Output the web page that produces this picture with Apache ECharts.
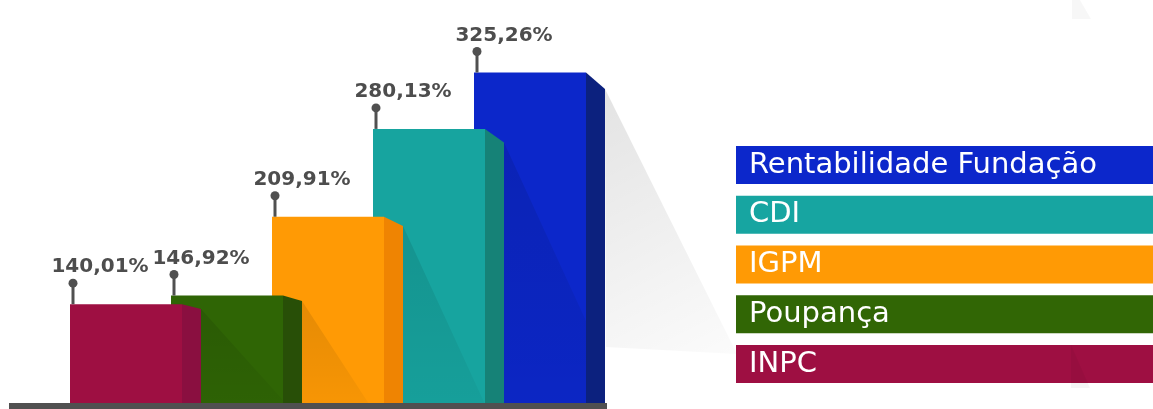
<!DOCTYPE html>
<html>
<head>
<meta charset="utf-8">
<script src="https://cdn.jsdelivr.net/npm/echarts@6/dist/echarts.min.js"></script>
<style>html,body{margin:0;padding:0;background:#fff;}#c{width:1153px;height:409px;}</style>
</head>
<body>
<div id="c"></div>
<script>
const categories = ['INPC', 'Poupança', 'IGPM', 'CDI', 'Rentabilidade Fundação'];
const values = [140.01, 146.92, 209.91, 280.13, 325.26];
const frontColors = ['#9E0F42', '#2F6505', '#FF9A05', '#17A49F', '#0C27CA'];
const sideColors = ['#8A0F40', '#284F07', '#EF8402', '#168277', '#0C217E'];
const legendColors = ['#9E0F42', '#316605', '#FF9A05', '#17A5A1', '#0C27CB'];

const Y_MIN = 61, Y_MAX = 380;
const FRONT = 112, SIDE = 19;
const shadowSlopes = [0.9, 0.65, 0.46, 0.46, 0.5];

function fmt(v) { return v.toFixed(2).replace('.', ',') + '%'; }

const chart = echarts.init(document.getElementById('c'));

function makeRender(idx) {
  return function (params, api) {
    const i = api.value(0);
    const v = api.value(1);
    const p = api.coord([i, v]);
    const base = api.coord([i, Y_MIN])[1];
    const x0 = p[0] - FRONT / 2, x1 = x0 + FRONT, x2 = x1 + SIDE;
    const top = p[1];
    const drop = 0.05 * (base - top);
    const children = [];
    const ay = top + drop;
    const s = shadowSlopes[i];
    if (i < values.length - 1) {
      const q = api.coord([i + 1, values[i + 1]]);
      const nx1 = q[0] - FRONT / 2 + FRONT;
      const bx = x2 + s * (base - ay);
      let pts;
      if (bx > nx1) {
        const yi = ay + (nx1 - x2) / s;
        pts = [[x2, ay], [nx1, yi], [nx1, base], [x2, base]];
      } else {
        pts = [[x2, ay], [bx, base], [x2, base]];
      }
      children.push({
        type: 'polygon', shape: { points: pts },
        style: { fill: new echarts.graphic.LinearGradient(0, 0, 0, 1, [
          { offset: 0, color: 'rgba(0,0,0,0.10)' }, { offset: 1, color: 'rgba(0,0,0,0.03)' }]) }
      });
    } else {
      children.push({
        type: 'polygon', shape: { points: [[x2, ay], [x2 + 132, ay + 265], [x2 + 1, ay + 258]] },
        style: { fill: new echarts.graphic.LinearGradient(0, 0, 1, 1, [
          { offset: 0, color: 'rgba(0,0,0,0.11)' }, { offset: 1, color: 'rgba(0,0,0,0.015)' }]) }
      });
    }
    children.push({ type: 'rect', shape: { x: x0, y: top, width: FRONT, height: base - top }, style: { fill: frontColors[i] } });
    children.push({ type: 'polygon', shape: { points: [[x1, top], [x2, ay], [x2, base], [x1, base]] }, style: { fill: sideColors[i] } });
    const px = x0 + 3;
    children.push({ type: 'line', shape: { x1: px, y1: top, x2: px, y2: top - 21 }, style: { stroke: '#505050', lineWidth: 3 } });
    children.push({ type: 'circle', shape: { cx: px, cy: top - 21, r: 4.5 }, style: { fill: '#505050' } });
    children.push({ type: 'text', x: px + 27, y: top - 37,
      style: { text: fmt(v), fill: '#4d4d4d', font: 'bold 20px "DejaVu Sans"', align: 'center', verticalAlign: 'middle' } });
    return { type: 'group', children: children };
  };
}

const series = [];
for (let i = categories.length - 1; i >= 0; i--) {
  series.push({
    name: categories[i],
    type: 'custom',
    renderItem: makeRender(i),
    data: [[i, values[i]]],
    color: legendColors[i],
    clip: false,
    silent: true
  });
}

const legendData = [];
for (let i = categories.length - 1; i >= 0; i--) {
  legendData.push({ name: categories[i], textStyle: { backgroundColor: legendColors[i] } });
}

chart.setOption({
  animation: false,
  backgroundColor: '#ffffff',
  grid: { left: 75.5, right: 572.5, top: 4, bottom: 6 },
  xAxis: { type: 'category', data: categories, show: false },
  yAxis: { type: 'value', min: Y_MIN, max: Y_MAX, show: false },
  legend: {
    orient: 'vertical', left: 726, top: 141, icon: 'none', itemWidth: 0, itemHeight: 0,
    itemGap: 11.75, selectedMode: false, data: legendData,
    textStyle: { color: '#ffffff', fontSize: 29, fontFamily: 'DejaVu Sans', width: 404, height: 38, lineHeight: 38, padding: [0, 0, 0, 13] }
  },
  graphic: [
    { type: 'rect', shape: { x: 9, y: 403, width: 598, height: 6 }, style: { fill: '#505050' }, z: 10 },
    { type: 'polygon', shape: { points: [[1072, 0], [1080, 0], [1091, 19], [1072, 19]] }, style: { fill: 'rgba(0,0,0,0.03)' }, z: 10 },
    { type: 'polygon', shape: { points: [[1071, 345], [1090, 388], [1071, 388]] }, style: { fill: 'rgba(0,0,0,0.04)' }, z: 10 }
  ],
  series: series
});
</script>
</body>
</html>
